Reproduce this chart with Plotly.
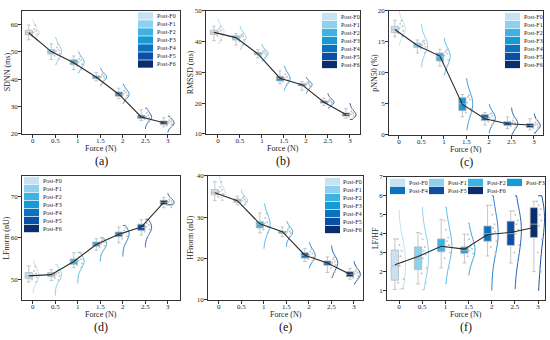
import plotly.graph_objects as go

# ---------------- data ----------------
FORCE = [0, 0.5, 1, 1.5, 2, 2.5, 3]
FORCE_TICKS = ["0", "0.5", "1", "1.5", "2", "2.5", "3"]
GROUPS = ["Post-F0", "Post-F1", "Post-F2", "Post-F3", "Post-F4", "Post-F5", "Post-F6"]
BOX_COLORS = ["#c6e2f3", "#8dd1ee", "#3eb3e3", "#1799d5", "#0b72c0", "#0a4fa5", "#0a2d6e"]
VIOLIN_COLORS = ["#c0e0f2", "#8fd0ef", "#5cbde8", "#3aa6dd", "#2a86cf", "#2766b8", "#1f4f9c"]

# (a) SDNN (ms)
SDNN_MEAN = [57.0, 50.1, 46.0, 40.7, 34.5, 26.2, 24.1]
SDNN_Q1 = [56.2, 49.2, 45.3, 40.2, 33.8, 25.6, 23.4]
SDNN_MED = [57.0, 50.0, 46.1, 40.7, 34.5, 26.2, 24.0]
SDNN_Q3 = [57.9, 50.8, 47.1, 41.2, 35.3, 26.8, 24.7]
SDNN_LO = [54.4, 47.2, 43.5, 39.4, 32.9, 24.9, 22.6]
SDNN_HI = [59.8, 52.9, 48.5, 42.4, 36.7, 28.8, 25.9]
SDNN_SAMPLES = [
    [54.5, 55.8, 56.4, 56.9, 57.2, 57.7, 58.4, 59.7],
    [47.3, 48.6, 49.4, 49.9, 50.3, 50.7, 51.6, 52.8],
    [43.6, 44.8, 45.5, 46.0, 46.3, 46.9, 47.5, 48.4],
    [39.5, 39.9, 40.3, 40.6, 40.8, 41.1, 41.6, 42.3],
    [33.0, 33.6, 34.0, 34.4, 34.7, 35.1, 35.8, 36.6],
    [25.0, 25.4, 25.8, 26.1, 26.3, 26.7, 27.6, 28.7],
    [22.7, 23.2, 23.6, 23.9, 24.2, 24.5, 25.0, 25.8],
]
SDNN_VSPAN = [[55.3, 61.8], [45.3, 55.3], [42.4, 50.0], [37.6, 44.0], [31.2, 38.2], [21.8, 29.4], [20.6, 26.5]]

# (b) RMSSD (ms)
RMSSD_MEAN = [43.0, 41.3, 36.0, 28.1, 26.0, 20.3, 16.3]
RMSSD_Q1 = [42.3, 40.5, 35.7, 27.2, 25.6, 20.0, 15.8]
RMSSD_MED = [43.0, 41.2, 36.1, 28.0, 26.0, 20.3, 16.3]
RMSSD_Q3 = [43.7, 41.9, 36.5, 28.7, 26.3, 20.7, 16.8]
RMSSD_LO = [40.3, 38.9, 34.7, 26.3, 24.2, 19.2, 15.1]
RMSSD_HI = [45.0, 42.6, 37.4, 30.5, 27.0, 21.6, 18.2]
RMSSD_SAMPLES = [
    [40.4, 41.8, 42.5, 42.9, 43.2, 43.6, 44.2, 44.9],
    [39.0, 40.0, 40.6, 41.1, 41.4, 41.7, 42.1, 42.5],
    [34.8, 35.3, 35.7, 36.0, 36.2, 36.4, 36.8, 37.3],
    [26.4, 27.0, 27.4, 27.9, 28.2, 28.6, 29.4, 30.4],
    [24.3, 25.2, 25.6, 25.9, 26.1, 26.3, 26.6, 26.9],
    [19.3, 19.8, 20.0, 20.2, 20.4, 20.6, 21.0, 21.5],
    [15.2, 15.6, 15.9, 16.2, 16.4, 16.7, 17.3, 18.1],
]
RMSSD_VSPAN = [[39.5, 47.4], [37.4, 45.0], [33.7, 39.0], [24.2, 32.0], [23.2, 28.4], [18.4, 23.2], [14.7, 20.0]]

# (c) pNN50 (%)
PNN50_MEAN = [17.0, 14.4, 12.7, 4.9, 2.6, 1.8, 1.6]
PNN50_Q1 = [16.5, 14.1, 11.9, 3.9, 2.3, 1.5, 1.2]
PNN50_MED = [17.0, 14.4, 12.6, 5.0, 2.7, 1.8, 1.5]
PNN50_Q3 = [17.5, 14.8, 13.2, 6.0, 3.3, 2.1, 1.8]
PNN50_LO = [15.8, 13.2, 11.1, 2.9, 1.6, 1.0, 0.8]
PNN50_HI = [18.5, 15.3, 13.8, 6.5, 3.6, 2.9, 2.6]
PNN50_SAMPLES = [
    [15.9, 16.4, 16.8, 17.0, 17.2, 17.5, 17.9, 18.4],
    [13.3, 13.9, 14.2, 14.4, 14.5, 14.7, 15.0, 15.2],
    [11.2, 11.7, 12.1, 12.5, 12.8, 13.1, 13.4, 13.7],
    [3.0, 3.6, 4.2, 4.8, 5.2, 5.7, 6.1, 6.4],
    [1.7, 2.1, 2.4, 2.6, 2.8, 3.1, 3.4, 3.5],
    [1.1, 1.4, 1.6, 1.7, 1.9, 2.0, 2.3, 2.8],
    [0.9, 1.1, 1.3, 1.5, 1.6, 1.7, 2.0, 2.5],
]
PNN50_VSPAN = [[14.5, 20.0], [10.9, 17.9], [9.6, 15.6], [0.8, 9.1], [0.3, 4.9], [0.0, 4.4], [0.3, 3.4]]

# (d) LFnorm (nU)
LF_MEAN = [50.8, 51.1, 54.3, 58.4, 60.9, 62.6, 68.6]
LF_Q1 = [50.2, 50.6, 53.6, 58.0, 60.3, 61.8, 68.1]
LF_MED = [50.8, 51.1, 54.3, 58.5, 60.9, 62.5, 68.6]
LF_Q3 = [51.6, 51.6, 54.9, 59.0, 61.4, 63.3, 69.1]
LF_LO = [49.3, 49.7, 52.8, 57.0, 58.8, 60.7, 67.3]
LF_HI = [53.2, 52.3, 56.4, 59.8, 62.6, 64.4, 69.8]
LF_SAMPLES = [
    [49.4, 49.9, 50.4, 50.7, 51.0, 51.4, 52.0, 53.1],
    [49.8, 50.3, 50.8, 51.0, 51.2, 51.5, 51.8, 52.2],
    [52.9, 53.4, 53.8, 54.2, 54.5, 54.8, 55.4, 56.3],
    [57.1, 57.7, 58.1, 58.4, 58.6, 58.9, 59.3, 59.7],
    [58.9, 59.8, 60.4, 60.8, 61.1, 61.3, 61.8, 62.5],
    [60.8, 61.5, 62.0, 62.4, 62.7, 63.1, 63.6, 64.3],
    [67.4, 67.9, 68.3, 68.5, 68.7, 68.9, 69.3, 69.7],
]
LF_VSPAN = [[46.7, 54.3], [46.0, 53.6], [49.0, 56.5], [54.3, 60.0], [55.5, 63.0], [57.7, 64.5], [68.0, 70.8]]

# (e) HFnorm (nU)
HF_MEAN = [35.9, 34.0, 28.4, 26.5, 20.8, 18.9, 16.2]
HF_Q1 = [35.4, 33.6, 27.4, 26.1, 20.1, 18.4, 15.6]
HF_MED = [36.0, 34.0, 28.3, 26.4, 20.7, 18.9, 16.2]
HF_Q3 = [36.7, 34.4, 28.9, 26.6, 21.4, 19.4, 16.8]
HF_LO = [34.0, 33.0, 26.2, 25.3, 19.3, 16.6, 15.0]
HF_HI = [38.6, 35.1, 31.0, 27.6, 22.4, 20.4, 17.6]
HF_SAMPLES = [
    [34.1, 35.0, 35.6, 35.9, 36.2, 36.6, 37.3, 38.5],
    [33.1, 33.4, 33.8, 34.0, 34.1, 34.3, 34.7, 35.0],
    [26.3, 27.0, 27.7, 28.2, 28.5, 28.8, 29.8, 30.9],
    [25.4, 25.9, 26.2, 26.4, 26.5, 26.6, 27.0, 27.5],
    [19.4, 19.9, 20.3, 20.6, 20.9, 21.2, 21.7, 22.3],
    [16.7, 17.8, 18.5, 18.8, 19.0, 19.3, 19.8, 20.3],
    [15.1, 15.4, 15.8, 16.1, 16.3, 16.6, 17.0, 17.5],
]
HF_VSPAN = [[34.7, 40.0], [32.8, 36.7], [22.4, 33.2], [22.8, 28.9], [17.7, 23.9], [15.4, 23.1], [13.9, 19.3]]

# (f) LF/HF
LFHF_MEAN = [2.36, 2.79, 3.33, 3.18, 3.95, 4.06, 4.32]
LFHF_Q1 = [1.54, 2.10, 3.04, 2.96, 3.60, 3.38, 3.80]
LFHF_MED = [2.30, 2.70, 3.30, 3.10, 4.00, 4.00, 4.50]
LFHF_Q3 = [3.13, 3.30, 3.72, 3.30, 4.40, 4.66, 5.37]
LFHF_LO = [1.05, 1.34, 2.19, 2.45, 2.82, 2.45, 1.99]
LFHF_HI = [3.72, 4.06, 4.74, 3.98, 5.50, 5.20, 5.71]
LFHF_SAMPLES = [
    [1.1, 1.4, 1.6, 2.0, 2.3, 2.5, 2.8, 3.1, 3.4, 3.7],
    [1.4, 1.9, 2.2, 2.5, 2.7, 2.9, 3.1, 3.3, 3.7, 4.0],
    [2.2, 2.7, 3.0, 3.2, 3.3, 3.4, 3.6, 3.8, 4.2, 4.7],
    [2.5, 2.8, 2.95, 3.05, 3.1, 3.2, 3.3, 3.4, 3.7, 3.95],
    [2.9, 3.3, 3.6, 3.8, 4.0, 4.1, 4.3, 4.5, 5.0, 5.5],
    [2.5, 3.0, 3.4, 3.7, 4.0, 4.2, 4.5, 4.7, 5.0, 5.2],
    [2.0, 3.0, 3.7, 4.0, 4.4, 4.7, 5.0, 5.3, 5.5, 5.7],
]
LFHF_VSPAN = [[1.08, 5.25], [1.03, 5.4], [1.34, 5.4], [1.82, 4.57], [1.0, 6.0], [1.08, 6.0], [1.0, 6.0]]

# ---------------- layout constants ----------------
W, H = 550, 340
FONT = "Liberation Serif, Times New Roman, serif"
BOX_OFFSET = 0.09

PANELS = [
    dict(label="(a)", ytitle="SDNN (ms)", yr=[20, 65], dt=10, xr=[-0.24, 3.27], yt=15,
         mean=SDNN_MEAN, q1=SDNN_Q1, med=SDNN_MED, q3=SDNN_Q3, lo=SDNN_LO, hi=SDNN_HI,
         s=SDNN_SAMPLES, vs=SDNN_VSPAN, px=(22, 180, 7, 133), leg=(138, 8.5, "v")),
    dict(label="(b)", ytitle="RMSSD (ms)", yr=[10, 50], dt=10, xr=[-0.27, 3.23], yt=16,
         mean=RMSSD_MEAN, q1=RMSSD_Q1, med=RMSSD_MED, q3=RMSSD_Q3, lo=RMSSD_LO, hi=RMSSD_HI,
         s=RMSSD_SAMPLES, vs=RMSSD_VSPAN, px=(206, 360, 7, 133), leg=(322, 9, "v")),
    dict(label="(c)", ytitle="pNN50 (%)", yr=[0, 20], dt=5, xr=[-0.22, 3.2], yt=14,
         mean=PNN50_MEAN, q1=PNN50_Q1, med=PNN50_MED, q3=PNN50_Q3, lo=PNN50_LO, hi=PNN50_HI,
         s=PNN50_SAMPLES, vs=PNN50_VSPAN, px=(389, 543, 7, 134), leg=(505, 9, "v")),
    dict(label="(d)", ytitle="LFnorm (nU)", yr=[45, 75], dt=10, xr=[-0.24, 3.27], yt=15,
         mean=LF_MEAN, q1=LF_Q1, med=LF_MED, q3=LF_Q3, lo=LF_LO, hi=LF_HI,
         s=LF_SAMPLES, vs=LF_VSPAN, px=(22, 180, 176, 303), leg=(24, 177, "v")),
    dict(label="(e)", ytitle="HFnorm (nU)", yr=[10, 40], dt=10, xr=[-0.24, 3.2], yt=17,
         mean=HF_MEAN, q1=HF_Q1, med=HF_MED, q3=HF_Q3, lo=HF_LO, hi=HF_HI,
         s=HF_SAMPLES, vs=HF_VSPAN, px=(208, 363, 176, 303), leg=(325, 178, "v")),
    dict(label="(f)", ytitle="LF/HF", yr=[0.5, 7], dt=1, xr=[-0.26, 3.15], yt=12,
         mean=LFHF_MEAN, q1=LFHF_Q1, med=LFHF_MED, q3=LFHF_Q3, lo=LFHF_LO, hi=LFHF_HI,
         s=LFHF_SAMPLES, vs=LFHF_VSPAN, px=(387, 545, 177, 303), leg=(390, 179, "h")),
]

fig = go.Figure()
shapes, annots = [], []
layout = dict(width=W, height=H, margin=dict(l=0, r=0, t=0, b=0), autosize=False,
              paper_bgcolor="white", plot_bgcolor="white", showlegend=False,
              boxmode="overlay", violinmode="overlay",
              font=dict(family=FONT, color="#222", size=7))


def px2paper(x, y):
    return x / W, 1 - y / H


for i, p in enumerate(PANELS):
    n = i + 1
    xa = "x" if n == 1 else f"x{n}"
    ya = "y" if n == 1 else f"y{n}"
    x0, x1, y0, y1 = p["px"]
    axstyle = dict(showline=True, linecolor="#333", linewidth=0.8, mirror=True,
                   ticks="outside", ticklen=3, tickwidth=0.8, tickcolor="#333",
                   showgrid=False, zeroline=False, tickfont=dict(size=7, family=FONT))
    layout[f"xaxis{'' if n == 1 else n}"] = dict(
        domain=[x0 / W, x1 / W], anchor=ya, range=p["xr"],
        tickvals=FORCE, ticktext=FORCE_TICKS, ticklabelstandoff=-3, **axstyle)
    layout[f"yaxis{'' if n == 1 else n}"] = dict(
        domain=[1 - y1 / H, 1 - y0 / H], anchor=xa, range=p["yr"], dtick=p["dt"],
        ticklabelstandoff=-1, **axstyle)

    for k, f in enumerate(FORCE):
        s = p["s"][k]
        lo_s, hi_s = p["vs"][k]
        fig.add_trace(go.Violin(
            x=[f] * len(s), y=s, xaxis=xa, yaxis=ya, side="positive", width=0.28,
            line=dict(color=VIOLIN_COLORS[k], width=1), fillcolor="rgba(0,0,0,0)",
            points="all", pointpos=0.25, jitter=0.6,
            marker=dict(color="#c4c4c4", size=2),
            box_visible=False, meanline_visible=False,
            spanmode="manual", span=[lo_s, hi_s], bandwidth=(hi_s - lo_s) / 6,
            scalemode="width", hoverinfo="skip"))
        fig.add_trace(go.Box(
            x=[f - BOX_OFFSET], q1=[p["q1"][k]], median=[p["med"][k]], q3=[p["q3"][k]],
            lowerfence=[p["lo"][k]], upperfence=[p["hi"][k]], xaxis=xa, yaxis=ya,
            width=0.16, whiskerwidth=0.5, fillcolor=BOX_COLORS[k],
            line=dict(color="#b8b8b8", width=0.8), boxpoints=False, hoverinfo="skip"))
    fig.add_trace(go.Scatter(
        x=[f - BOX_OFFSET for f in FORCE], y=p["mean"], xaxis=xa, yaxis=ya,
        mode="lines", line=dict(color="#2a2a2a", width=1.1), hoverinfo="skip"))

    # axis titles and panel label
    cx = (x0 + x1) / 2
    tx, ty = px2paper(cx, y1 + 15)
    annots.append(dict(text="Force (N)", x=tx, y=ty, xref="paper", yref="paper",
                       showarrow=False, font=dict(size=8, family=FONT, color="#222"),
                       xanchor="center", yanchor="middle"))
    lx, ly = px2paper(cx, y1 + 28)
    annots.append(dict(text=p["label"], x=lx, y=ly, xref="paper", yref="paper",
                       showarrow=False, font=dict(size=12, family=FONT, color="#111"),
                       xanchor="center", yanchor="middle"))
    vx, vy = px2paper(x0 - p["yt"], (y0 + y1) / 2)
    annots.append(dict(text=p["ytitle"], x=vx, y=vy, xref="paper", yref="paper",
                       showarrow=False, textangle=-90,
                       font=dict(size=8, family=FONT, color="#222"),
                       xanchor="center", yanchor="middle"))

    # legend (drawn as swatches + labels)
    gx, gy, orient = p["leg"]
    for k, g in enumerate(GROUPS):
        if orient == "v":
            col, row, cp = 0, k, 0
        else:
            col, row, cp = k % 4, k // 4, 39
        sx = gx + col * cp
        sy = gy + row * 8.2
        ax0, ay0 = px2paper(sx, sy)
        ax1, ay1 = px2paper(sx + 15, sy + 7.5)
        shapes.append(dict(type="rect", xref="paper", yref="paper", x0=ax0, x1=ax1, y0=ay1, y1=ay0,
                           fillcolor=BOX_COLORS[k], line=dict(width=0)))
        tx2, ty2 = px2paper(sx + 16.5, sy + 3.9)
        annots.append(dict(text=g, x=tx2, y=ty2, xref="paper", yref="paper", showarrow=False,
                           xanchor="left", yanchor="middle",
                           font=dict(size=6, family=FONT, color="#222")))

layout["shapes"] = shapes
layout["annotations"] = annots
fig.update_layout(**layout)
fig.write_html("out.html", config={"displayModeBar": False},
               post_script="document.body.style.margin='0';document.body.style.overflow='hidden';")
